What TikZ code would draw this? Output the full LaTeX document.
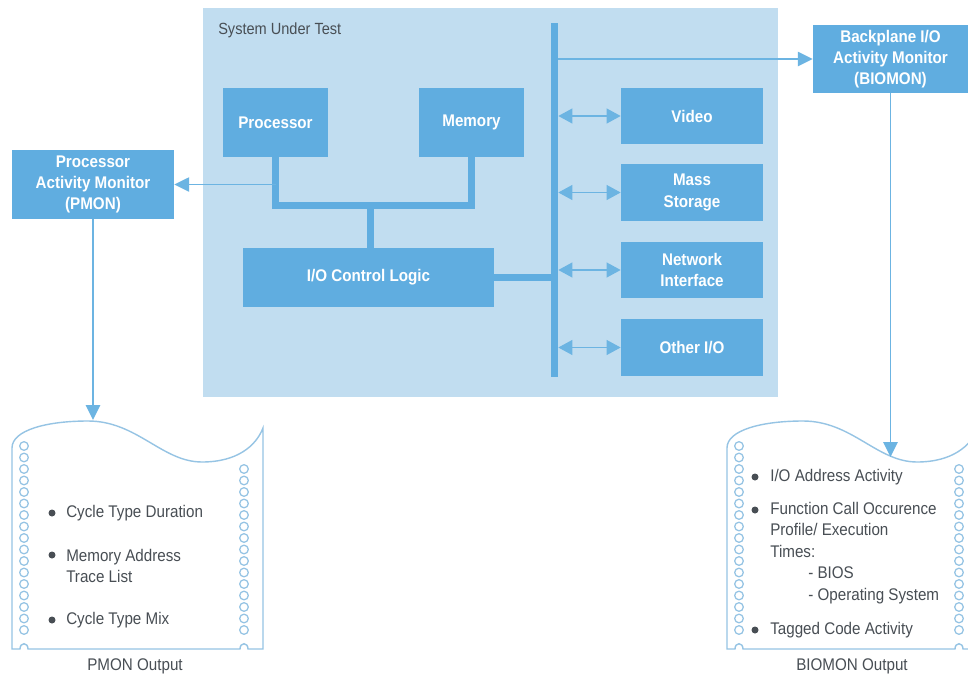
\documentclass[tikz,border=0pt]{standalone}
\usepackage{fontspec}
\setmainfont{Liberation Sans}[FakeStretch=0.9]
\usetikzlibrary{arrows.meta}

\definecolor{boxblue}{RGB}{96,173,224}
\definecolor{sutblue}{RGB}{193,221,240}
\definecolor{linkblue}{RGB}{108,180,226}
\definecolor{paperblue}{RGB}{150,196,228}
\definecolor{inkgray}{RGB}{72,78,84}

\tikzset{
  unit/.style={fill=boxblue, text=white, align=center, inner sep=0pt,
    font=\fontsize{12}{15}\selectfont\bfseries},
  dev/.style={unit, minimum width=3.55cm, minimum height=1.4cm},
  busline/.style={draw=boxblue, line width=0.175cm, line join=miter},
  link/.style={draw=linkblue, line width=1.3pt},
  tip/.style={-{Triangle[length=10.5pt,width=10pt]}},
  dtip/.style={{Triangle[length=10pt,width=10.5pt]}-{Triangle[length=10pt,width=10.5pt]}},
  listtxt/.style={anchor=west, align=left, text=inkgray, inner sep=0pt,
    font=\fontsize{12}{15.3}\selectfont},
  foot/.style={text=inkgray, inner sep=0pt, font=\fontsize{12}{14}\selectfont},
  printout/.pic={
    \draw[paperblue, line width=1pt, fill=white] (0,649) -- (0,448)
      .. controls (0,430) and (35,421) .. (76,421)
      .. controls (125,421) and (150,462) .. (190,462)
      .. controls (225,462) and (244,446) .. (251,428) -- (251,649)
      -- (236,649) .. controls (236,642) and (228,642) .. (228,649)
      -- (16,649) .. controls (16,642) and (8,642) .. (8,649) -- cycle;
    \foreach \k in {0,...,16}
      \draw[paperblue, line width=0.9pt] (12,446+11.5*\k) circle (4.3);
    \foreach \k in {0,...,14}
      \draw[paperblue, line width=0.9pt] (232,469+11.5*\k) circle (4.3);
  }
}

\begin{document}
\begin{tikzpicture}[x=0.025cm, y=-0.025cm]
    \useasboundingbox (0,0) rectangle (968,678);
    \clip (0,0) rectangle (968,678);
    \fill[white] (0,0) rectangle (968,678);

    % 被测系统
    \node[fill=sutblue, minimum width=14.375cm, minimum height=9.725cm, inner sep=0pt] (sut) at (490.5,202.5) {};
    \node[anchor=west, text=inkgray, inner sep=0pt, font=\fontsize{11.5}{14}\selectfont] (sutlbl) at (218,30) {System Under Test};

    % 部件
    \node[unit, minimum width=2.625cm, minimum height=1.725cm] (proc) at (275.5,122.5) {Processor};
    \node[unit, minimum width=2.625cm, minimum height=1.725cm] (mem) at (471.5,122.5) {Memory};
    \node[unit, minimum width=6.275cm, minimum height=1.475cm] (iocl) at (368.5,277.5) {I/O Control Logic};
    \node[dev] (video) at (692,116) {Video};
    \node[dev] (mass) at (692,192.5) {Mass\\Storage};
    \node[dev] (net) at (692,270) {Network\\Interface};
    \node[dev] (other) at (692,347.5) {Other I/O};
    \node[fill=boxblue, minimum width=0.175cm, minimum height=8.85cm, inner sep=0pt] (sysbus) at (554.5,200) {};

    % 监视器
    \node[unit, minimum width=4.05cm, minimum height=1.725cm] (pmon) at (93,184.5) {Processor\\Activity Monitor\\(PMON)};
    \node[unit, minimum width=3.875cm, minimum height=1.7cm] (biomon) at (890.5,59) {Backplane I/O\\Activity Monitor\\(BIOMON)};

    % 总线
    \coordinate (junc) at (370,205);
    \draw[busline] (proc.south) |- (junc) -| (mem.south);
    \draw[busline] (junc) -- (junc |- iocl.north);
    \draw[busline] (iocl.east) -- (iocl.east -| sysbus.west);

    % 信号线
    \draw[link, tip] (sysbus.east |- biomon.west) -- (biomon.west);
    \draw[link, tip] (proc.south |- pmon.east) -- (pmon.east);
    \foreach \d in {video,mass,net,other}
      \draw[link, dtip] (sysbus.east |- \d.west) -- (\d.west);

    % 输出纸带
    \pic at (12,0) {printout};
    \pic at (727,0) {printout};
    \coordinate (pmonin) at (93,420);
    \coordinate (bioin) at (890.5,457);
    \draw[link, tip] (pmon.south) -- (pmonin);
    \draw[link, tip] (biomon.south) -- (bioin);

    % PMON 输出
    \node[listtxt] (pm1) at (66,513) {Cycle Type Duration};
    \node[listtxt] (pm2) at (66,566) {Memory Address\\Trace List};
    \node[listtxt] (pm3) at (66,620) {Cycle Type Mix};
    \foreach \y in {513,555,620}
      \fill[inkgray] (52,\y) circle (3.5);
    \node[foot] (pmonout) at (135,666) {PMON Output};

    % BIOMON 输出
    \node[listtxt] (bi1) at (770,477) {I/O Address Activity};
    \node[listtxt] (bi2) at (770,553) {Function Call Occurence\\Profile/ Execution\\Times:\\\hspace*{0.95cm}- BIOS\\\hspace*{0.95cm}- Operating System};
    \node[listtxt] (bi3) at (770,630) {Tagged Code Activity};
    \foreach \y in {477,510,630}
      \fill[inkgray] (755,\y) circle (3.5);
    \node[foot] (bioout) at (852,666) {BIOMON Output};
\end{tikzpicture}
\end{document}
